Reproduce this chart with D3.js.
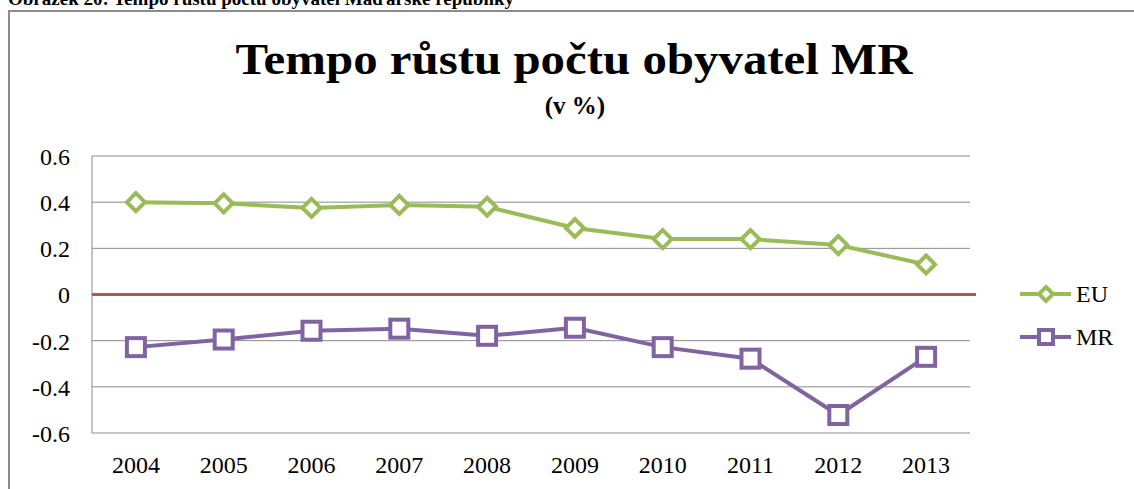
<!DOCTYPE html>
<html><head><meta charset="utf-8">
<script src="https://cdn.jsdelivr.net/npm/d3@7"></script>
<style>body{margin:0;background:#fff}svg{display:block}text{font-family:"Liberation Serif","Times New Roman",serif}</style>
</head><body>
<svg id="c" width="1134" height="489"></svg>
<script>
const years = ["2004","2005","2006","2007","2008","2009","2010","2011","2012","2013"];
const euValues = [0.40, 0.395, 0.375, 0.388, 0.38, 0.288, 0.24, 0.24, 0.214, 0.13];
const mrValues = [-0.228, -0.195, -0.157, -0.148, -0.179, -0.144, -0.228, -0.278, -0.522, -0.27];
const yTicks = [0.6, 0.4, 0.2, 0, -0.2, -0.4, -0.6];
const yTickLabels = ["0.6", "0.4", "0.2", "0", "-0.2", "-0.4", "-0.6"];
const seriesNames = ["EU", "MR"];
const colors = {EU: "#9bbb59", MR: "#8064a2"};

const svg = d3.select("#c");
const pL = 92, pR = 970, pT = 156, pB = 433;
const x = d3.scaleBand().domain(years).range([pL, pR]);
const y = d3.scaleLinear().domain([-0.6, 0.6]).range([pB, pT]);

// caption (cut off at top, as in the source)
svg.append("text").attr("x", 8).attr("y", 5).attr("font-size", 19).attr("font-weight", "bold")
  .text("Obrázek 20: Tempo růstu počtu obyvatel Maďarské republiky");
// frame
svg.append("path").attr("d", "M9,489V11H1134").attr("fill", "none").attr("stroke", "#8c8c8c").attr("stroke-width", 2);

// title
svg.append("text").attr("x", 574).attr("y", 74).attr("text-anchor", "middle").attr("font-size", 44).attr("font-weight", "bold")
  .attr("textLength", 677).attr("lengthAdjust", "spacingAndGlyphs").text("Tempo růstu počtu obyvatel MR");
svg.append("text").attr("x", 575).attr("y", 114).attr("text-anchor", "middle").attr("font-size", 25).attr("font-weight", "bold").text("(v %)");

// gridlines
svg.append("g").selectAll("line").data(yTicks.filter(d => d !== 0)).join("line")
  .attr("x1", pL).attr("x2", pR).attr("y1", d => y(d)).attr("y2", d => y(d))
  .attr("stroke", "#8a8a8a").attr("stroke-width", 1);
// left axis line
svg.append("line").attr("x1", pL).attr("x2", pL).attr("y1", pT).attr("y2", pB).attr("stroke", "#8a8a8a");
// zero line
svg.append("line").attr("x1", pL).attr("x2", 976).attr("y1", y(0)).attr("y2", y(0)).attr("stroke", "#c0504d").attr("stroke-width", 3);

// y labels
const yAxis = d3.axisLeft(y).tickValues(yTicks).tickSize(0).tickPadding(22)
  .tickFormat((d, i) => yTickLabels[i]);
const ga = svg.append("g").attr("transform", `translate(${pL},0)`).call(yAxis);
ga.select(".domain").remove();
ga.selectAll("text").attr("font-size", 24).attr("fill", "#000").attr("dy", "0.35em");

// x labels
const xAxis = d3.axisBottom(x).tickSize(0).tickPadding(0);
const gx = svg.append("g").attr("transform", `translate(0,${pB})`).call(xAxis);
gx.select(".domain").remove();
gx.selectAll("text").attr("font-size", 24).attr("fill", "#000").attr("dy", null).attr("y", 40);

const line = d3.line().x((d, i) => x(years[i]) + x.bandwidth() / 2).y(d => y(d));
const data = {EU: euValues, MR: mrValues};

function marker(g, name, cx, cy) {
  if (name === "EU") {
    g.append("path").attr("d", `M${cx},${cy-9}L${cx+9},${cy}L${cx},${cy+9}L${cx-9},${cy}Z`)
      .attr("fill", "#fff").attr("stroke", colors.EU).attr("stroke-width", 4);
  } else {
    g.append("rect").attr("x", cx - 9).attr("y", cy - 9).attr("width", 18).attr("height", 18)
      .attr("fill", "#fff").attr("stroke", colors.MR).attr("stroke-width", 4);
  }
}

seriesNames.forEach(name => {
  const g = svg.append("g");
  g.append("path").datum(data[name]).attr("d", line).attr("fill", "none").attr("stroke", colors[name]).attr("stroke-width", 4);
  data[name].forEach((v, i) => marker(g, name, x(years[i]) + x.bandwidth() / 2, y(v)));
});

// legend
seriesNames.forEach((name, i) => {
  const ly = 294 + i * 43;
  const g = svg.append("g");
  g.append("line").attr("x1", 1020).attr("x2", 1071).attr("y1", ly).attr("y2", ly).attr("stroke", colors[name]).attr("stroke-width", 4);
  if (name === "EU") {
    g.append("path").attr("d", `M1046,${ly-7}L1053,${ly}L1046,${ly+7}L1039,${ly}Z`).attr("fill", "#fff").attr("stroke", colors.EU).attr("stroke-width", 4);
  } else {
    g.append("rect").attr("x", 1039).attr("y", ly - 7).attr("width", 14).attr("height", 14).attr("fill", "#fff").attr("stroke", colors.MR).attr("stroke-width", 4);
  }
  g.append("text").attr("x", 1076).attr("y", ly + 8).attr("font-size", 24).text(name);
});
</script>
</body></html>
